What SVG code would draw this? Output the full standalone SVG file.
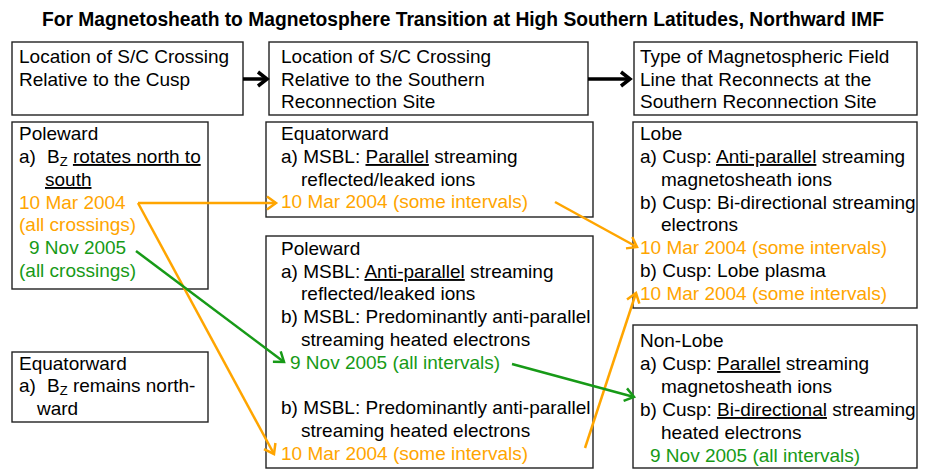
<svg xmlns="http://www.w3.org/2000/svg" width="928" height="470" viewBox="0 0 928 470">
<style>
text{font-family:"Liberation Sans",Arial,sans-serif;font-size:19px;fill:#000}
.title{font-size:20px;font-weight:bold}
.box{fill:#fff;stroke:#222;stroke-width:1.4}
.o{fill:#FFA500}
.g{fill:#179A17}
.u{text-decoration:underline}
.sub{font-size:13px}
.cb{fill:none;stroke:#000;stroke-width:3.5}
.co{fill:none;stroke:#FFA500;stroke-width:2.5}
.cg{fill:none;stroke:#179A17;stroke-width:2.5}
</style>
<defs>
<marker id="mb" markerUnits="userSpaceOnUse" markerWidth="20" markerHeight="20" viewBox="-12 -10 14 20" refX="0" refY="0" orient="auto" overflow="visible"><path d="M-9,-7 L0,0 L-9,7" fill="none" stroke="#000" stroke-width="3.5"/></marker>
<marker id="mo" markerUnits="userSpaceOnUse" markerWidth="20" markerHeight="20" viewBox="-12 -10 14 20" refX="0" refY="0" orient="auto" overflow="visible"><path d="M-9,-6.5 L0,0 L-9,6.5" fill="none" stroke="#FFA500" stroke-width="2.5"/></marker>
<marker id="mg" markerUnits="userSpaceOnUse" markerWidth="20" markerHeight="20" viewBox="-12 -10 14 20" refX="0" refY="0" orient="auto" overflow="visible"><path d="M-9,-6.5 L0,0 L-9,6.5" fill="none" stroke="#179A17" stroke-width="2.5"/></marker>
</defs>
<rect width="928" height="470" fill="#fff"/>
<text class="title" x="42" y="26" textLength="842" lengthAdjust="spacingAndGlyphs">For Magnetosheath to Magnetosphere Transition at High Southern Latitudes, Northward IMF</text>

<g id="hdr-cusp">
<rect class="box" x="12" y="42" width="231" height="73"/>
<text x="19" y="63">Location of S/C Crossing</text>
<text x="19" y="86">Relative to the Cusp</text>
</g>
<g id="hdr-site">
<rect class="box" x="269" y="42" width="319" height="73"/>
<text x="281" y="63">Location of S/C Crossing</text>
<text x="281" y="86">Relative to the Southern</text>
<text x="281" y="108">Reconnection Site</text>
</g>
<g id="hdr-type">
<rect class="box" x="634" y="42" width="283" height="73"/>
<text x="640" y="63">Type of Magnetospheric Field</text>
<text x="640" y="86">Line that Reconnects at the</text>
<text x="640" y="108">Southern Reconnection Site</text>
</g>

<g id="cusp-poleward">
<rect class="box" x="12" y="122" width="196" height="167"/>
<text x="19" y="140">Poleward</text>
<text x="19" y="163">a)<tspan x="47">B</tspan><tspan class="sub" dy="3">Z</tspan><tspan dy="-3"> </tspan><tspan class="u">rotates north to</tspan></text>
<text x="45" y="186" class="u">south</text>
<text x="19" y="209" class="o">10 Mar 2004</text>
<text x="19" y="231" class="o">(all crossings)</text>
<text x="29" y="254" class="g">9 Nov 2005</text>
<text x="19" y="277" class="g">(all crossings)</text>
</g>

<g id="cusp-equatorward">
<rect class="box" x="12" y="352" width="196" height="70"/>
<text x="19" y="370">Equatorward</text>
<text x="19" y="392">a)<tspan x="47">B</tspan><tspan class="sub" dy="3">Z</tspan><tspan dy="-3"> remains north-</tspan></text>
<text x="37" y="415">ward</text>
</g>

<g id="site-equatorward">
<rect class="box" x="266" y="122" width="327" height="95"/>
<text x="281" y="140">Equatorward</text>
<text x="281" y="163">a) MSBL: <tspan class="u">Parallel</tspan> streaming</text>
<text x="301" y="186">reflected/leaked ions</text>
<text x="281" y="208" class="o">10 Mar 2004 (some intervals)</text>
</g>

<g id="site-poleward">
<rect class="box" x="266" y="236" width="327" height="232"/>
<text x="281" y="255">Poleward</text>
<text x="281" y="278">a) MSBL: <tspan class="u">Anti-parallel</tspan> streaming</text>
<text x="301" y="300">reflected/leaked ions</text>
<text x="281" y="323">b) MSBL: Predominantly anti-parallel</text>
<text x="301" y="346">streaming heated electrons</text>
<text x="290" y="369" class="g">9 Nov 2005 (all intervals)</text>
<text x="281" y="414">b) MSBL: Predominantly anti-parallel</text>
<text x="301" y="437">streaming heated electrons</text>
<text x="281" y="460" class="o">10 Mar 2004 (some intervals)</text>
</g>

<g id="type-lobe">
<rect class="box" x="633" y="122" width="284" height="186"/>
<text x="640" y="140">Lobe</text>
<text x="640" y="163">a) Cusp: <tspan class="u">Anti-parallel</tspan> streaming</text>
<text x="661" y="186">magnetosheath ions</text>
<text x="640" y="209">b) Cusp: Bi-directional streaming</text>
<text x="661" y="231">electrons</text>
<text x="640" y="254" class="o">10 Mar 2004 (some intervals)</text>
<text x="640" y="277">b) Cusp: Lobe plasma</text>
<text x="640" y="300" class="o">10 Mar 2004 (some intervals)</text>
</g>

<g id="type-nonlobe">
<rect class="box" x="633" y="325" width="284" height="143"/>
<text x="640" y="347">Non-Lobe</text>
<text x="640" y="370">a) Cusp: <tspan class="u">Parallel</tspan> streaming</text>
<text x="661" y="393">magnetosheath ions</text>
<text x="640" y="416">b) Cusp: <tspan class="u">Bi-directional</tspan> streaming</text>
<text x="661" y="439">heated electrons</text>
<text x="650" y="462" class="g">9 Nov 2005 (all intervals)</text>
</g>

<g id="connectors">
<path class="cb" d="M243,79 H267" marker-end="url(#mb)"/>
<path class="cb" d="M588,79 H630" marker-end="url(#mb)"/>
<path class="co" d="M138,203 H276" marker-end="url(#mo)"/>
<path class="co" d="M138,203 L274,454" marker-end="url(#mo)"/>
<path class="co" d="M555,202 L637,247" marker-end="url(#mo)"/>
<path class="co" d="M585,448 L636,293" marker-end="url(#mo)"/>
<path class="cg" d="M136,251 L284,362" marker-end="url(#mg)"/>
<path class="cg" d="M512,364 L634,397" marker-end="url(#mg)"/>
</g>
</svg>
